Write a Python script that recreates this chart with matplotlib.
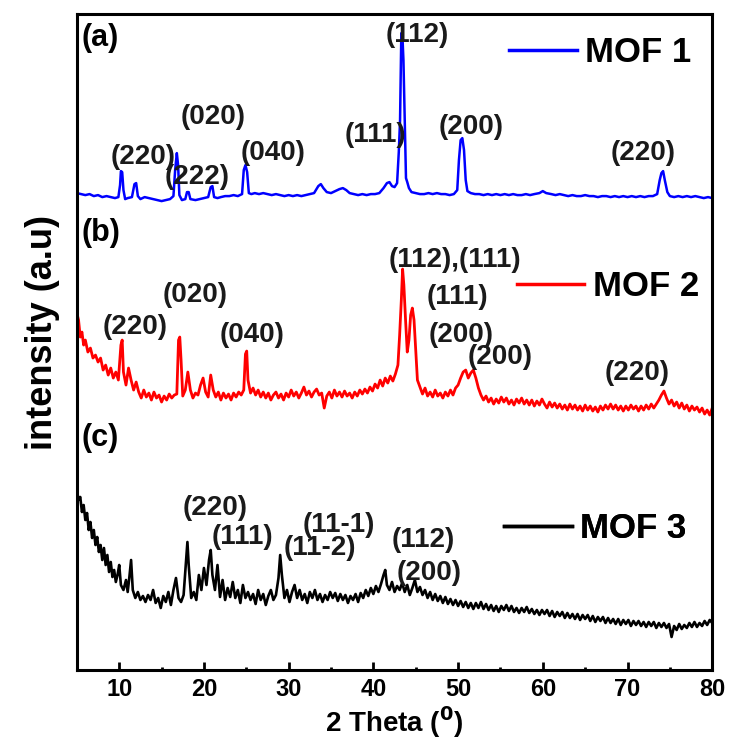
import matplotlib
matplotlib.use("Agg")
import matplotlib.pyplot as plt
from matplotlib.lines import Line2D

plt.rcParams["font.family"] = ["Liberation Sans", "DejaVu Sans"]
plt.rcParams["font.weight"] = "bold"
plt.rcParams["mathtext.default"] = "bf"

# MOF 1 (blue), pairs of (2 theta, stacked intensity)
mof1 = [
    (5.0, 477), (5.5, 476), (6.0, 475), (6.5, 476), (7.0, 474), (7.5, 475), (8.0, 473), (8.5, 474),
    (9.0, 473), (9.5, 472), (9.9, 473), (10.1, 485), (10.2, 499), (10.35, 498), (10.5, 480), (10.7, 471),
    (11.0, 472), (11.5, 473), (11.8, 486), (12.0, 487), (12.2, 474), (12.5, 471), (13.0, 473), (13.5, 472),
    (14.0, 471), (14.5, 470), (15.0, 469), (15.5, 470), (16.0, 471), (16.4, 474), (16.6, 500), (16.8, 517),
    (16.95, 505), (17.1, 475), (17.4, 470), (17.8, 471), (18.0, 478), (18.2, 478), (18.4, 471), (19.0, 470),
    (19.5, 471), (20.0, 472), (20.5, 473), (20.8, 483), (21.0, 484), (21.2, 473), (21.6, 472), (22.0, 473),
    (22.5, 474), (23.0, 474), (23.5, 475), (24.0, 474), (24.5, 476), (24.7, 500), (24.9, 505), (25.1, 498),
    (25.3, 477), (25.6, 476), (26.0, 477), (26.5, 476), (27.0, 477), (27.5, 476), (28.0, 475), (28.5, 476),
    (29.0, 475), (29.5, 474), (30.0, 475), (30.5, 474), (31.0, 475), (31.5, 474), (32.0, 475), (32.5, 476),
    (33.0, 477), (33.5, 484), (33.8, 486), (34.1, 482), (34.5, 478), (35.0, 477), (35.5, 479), (36.0, 481),
    (36.4, 482), (36.8, 480), (37.2, 477), (37.7, 476), (38.2, 475), (38.7, 476), (39.2, 475), (39.7, 476),
    (40.2, 476), (40.7, 477), (41.2, 482), (41.6, 487), (41.9, 488), (42.2, 484), (42.5, 483), (42.8, 487),
    (43.0, 518), (43.15, 550), (43.3, 637), (43.45, 630), (43.55, 610), (43.7, 550), (43.85, 492), (44.0, 488),
    (44.2, 482), (44.5, 478), (45.0, 477), (45.5, 476), (46.0, 476), (46.5, 477), (47.0, 476), (47.5, 477),
    (48.0, 476), (48.5, 476), (49.0, 475), (49.5, 476), (49.9, 480), (50.1, 510), (50.3, 530), (50.5, 532),
    (50.7, 520), (50.9, 490), (51.1, 479), (51.5, 477), (52.0, 476), (52.5, 476), (53.0, 475), (53.5, 476),
    (54.0, 475), (54.5, 476), (55.0, 475), (55.5, 476), (56.0, 475), (56.5, 476), (57.0, 475), (57.5, 475),
    (58.0, 476), (58.5, 475), (59.0, 476), (59.6, 477), (60.0, 479), (60.4, 477), (61.0, 476), (61.5, 475),
    (62.0, 476), (62.5, 475), (63.0, 474), (63.5, 475), (64.0, 474), (64.5, 474), (65.0, 475), (65.5, 474),
    (66.0, 474), (66.5, 473), (67.0, 474), (67.5, 474), (68.0, 473), (68.5, 474), (69.0, 473), (69.5, 474),
    (70.0, 473), (70.5, 474), (71.0, 473), (71.5, 474), (72.0, 473), (72.5, 474), (73.0, 474), (73.5, 476),
    (73.8, 490), (74.0, 497), (74.2, 499), (74.4, 490), (74.7, 478), (75.0, 474), (75.5, 473), (76.0, 474),
    (76.5, 473), (77.0, 474), (77.5, 473), (78.0, 474), (78.5, 473), (79.0, 472), (79.5, 473), (80.0, 472),
]

# MOF 2 (red)
mof2 = [
    (5.0, 357), (5.2, 350), (5.4, 333), (5.6, 338), (5.8, 325), (6.0, 330), (6.3, 318), (6.6, 322),
    (6.9, 312), (7.2, 315), (7.5, 308), (7.8, 312), (8.1, 300), (8.4, 305), (8.7, 295), (9.0, 302),
    (9.3, 292), (9.6, 298), (9.9, 290), (10.2, 325), (10.35, 330), (10.5, 298), (10.8, 285), (11.1, 302),
    (11.4, 290), (11.7, 280), (12.0, 288), (12.3, 278), (12.6, 272), (12.9, 280), (13.2, 273), (13.5, 277),
    (13.8, 270), (14.1, 278), (14.4, 272), (14.7, 275), (15.0, 268), (15.3, 274), (15.6, 270), (15.9, 276),
    (16.2, 272), (16.5, 275), (16.8, 276), (17.0, 330), (17.15, 333), (17.3, 310), (17.5, 274), (17.8, 280),
    (18.1, 298), (18.4, 280), (18.7, 272), (19.0, 277), (19.3, 275), (19.6, 285), (19.9, 292), (20.2, 278),
    (20.5, 273), (20.8, 295), (21.1, 280), (21.4, 273), (21.7, 278), (22.0, 270), (22.3, 277), (22.6, 272),
    (22.9, 276), (23.2, 270), (23.5, 277), (23.8, 273), (24.1, 278), (24.4, 275), (24.7, 280), (24.9, 316),
    (25.05, 319), (25.2, 290), (25.5, 277), (25.8, 282), (26.1, 275), (26.4, 280), (26.7, 273), (27.0, 278),
    (27.3, 272), (27.6, 277), (27.9, 270), (28.2, 275), (28.5, 278), (28.8, 272), (29.1, 276), (29.4, 270),
    (29.7, 277), (30.0, 273), (30.3, 280), (30.6, 274), (30.9, 278), (31.2, 272), (31.5, 277), (31.8, 283),
    (32.1, 275), (32.4, 279), (32.7, 273), (33.0, 278), (33.3, 281), (33.6, 275), (33.9, 277), (34.2, 262),
    (34.5, 274), (34.8, 278), (35.1, 272), (35.4, 280), (35.7, 274), (36.0, 278), (36.3, 273), (36.6, 279),
    (36.9, 274), (37.2, 277), (37.5, 272), (37.8, 278), (38.1, 274), (38.4, 280), (38.7, 276), (39.0, 281),
    (39.3, 277), (39.6, 283), (39.9, 279), (40.2, 286), (40.5, 282), (40.8, 290), (41.1, 284), (41.4, 292),
    (41.7, 287), (42.0, 294), (42.3, 289), (42.6, 296), (42.9, 305), (43.1, 335), (43.3, 370), (43.45, 401),
    (43.6, 385), (43.8, 350), (44.0, 318), (44.2, 330), (44.4, 355), (44.6, 362), (44.8, 350), (45.0, 320),
    (45.2, 290), (45.5, 283), (45.8, 276), (46.1, 282), (46.4, 274), (46.7, 278), (47.0, 273), (47.3, 280),
    (47.6, 274), (47.9, 277), (48.2, 272), (48.5, 278), (48.8, 274), (49.1, 280), (49.4, 275), (49.7, 282),
    (50.0, 285), (50.3, 292), (50.6, 298), (50.9, 300), (51.2, 292), (51.5, 297), (51.8, 300), (52.1, 292),
    (52.4, 282), (52.7, 275), (53.0, 270), (53.3, 274), (53.6, 268), (53.9, 272), (54.2, 266), (54.5, 271),
    (54.8, 267), (55.1, 273), (55.4, 268), (55.7, 272), (56.0, 266), (56.3, 270), (56.6, 265), (56.9, 271),
    (57.2, 267), (57.5, 272), (57.8, 266), (58.1, 270), (58.4, 265), (58.7, 270), (59.0, 264), (59.3, 269),
    (59.6, 265), (59.9, 271), (60.2, 266), (60.5, 262), (60.8, 268), (61.1, 263), (61.4, 267), (61.7, 262),
    (62.0, 266), (62.3, 261), (62.6, 265), (62.9, 260), (63.2, 266), (63.5, 261), (63.8, 265), (64.1, 260),
    (64.4, 264), (64.7, 259), (65.0, 265), (65.3, 260), (65.6, 264), (65.9, 259), (66.2, 263), (66.5, 258),
    (66.8, 264), (67.1, 260), (67.4, 265), (67.7, 261), (68.0, 266), (68.3, 261), (68.6, 265), (68.9, 260),
    (69.2, 264), (69.5, 259), (69.8, 264), (70.1, 260), (70.4, 265), (70.7, 261), (71.0, 264), (71.3, 259),
    (71.6, 264), (71.9, 260), (72.2, 265), (72.5, 261), (72.8, 266), (73.1, 262), (73.4, 266), (73.7, 270),
    (74.0, 275), (74.3, 279), (74.6, 272), (74.9, 266), (75.2, 270), (75.5, 264), (75.8, 268), (76.1, 262),
    (76.4, 267), (76.7, 261), (77.0, 265), (77.3, 259), (77.6, 264), (77.9, 260), (78.2, 263), (78.5, 258),
    (78.8, 262), (79.1, 256), (79.4, 260), (79.7, 255), (80.0, 262),
]

# MOF 3 (black)
mof3 = [
    (5.0, 180), (5.2, 170), (5.4, 173), (5.6, 158), (5.8, 165), (6.0, 150), (6.2, 157), (6.4, 140),
    (6.6, 148), (6.8, 132), (7.0, 140), (7.2, 125), (7.4, 133), (7.6, 118), (7.8, 125), (8.0, 110),
    (8.2, 122), (8.4, 105), (8.6, 115), (8.8, 98), (9.0, 108), (9.2, 93), (9.4, 100), (9.6, 88),
    (9.8, 95), (10.0, 105), (10.2, 85), (10.5, 80), (10.8, 90), (11.0, 78), (11.2, 93), (11.4, 110),
    (11.6, 80), (11.9, 72), (12.2, 78), (12.5, 70), (12.8, 74), (13.1, 68), (13.4, 75), (13.7, 70),
    (14.0, 80), (14.3, 67), (14.6, 72), (14.9, 62), (15.2, 74), (15.5, 68), (15.8, 78), (16.1, 65),
    (16.4, 80), (16.7, 92), (17.0, 72), (17.3, 68), (17.6, 75), (17.9, 110), (18.05, 128), (18.2, 105),
    (18.5, 72), (18.8, 78), (19.1, 70), (19.4, 95), (19.7, 80), (20.0, 102), (20.3, 85), (20.6, 110),
    (20.8, 120), (21.0, 95), (21.3, 80), (21.6, 105), (21.9, 73), (22.2, 90), (22.5, 70), (22.8, 82),
    (23.1, 73), (23.4, 88), (23.7, 72), (24.0, 80), (24.3, 67), (24.6, 85), (24.9, 72), (25.2, 78),
    (25.5, 70), (25.8, 76), (26.1, 66), (26.4, 80), (26.7, 70), (27.0, 76), (27.3, 65), (27.6, 74),
    (27.9, 80), (28.2, 70), (28.5, 75), (28.8, 92), (29.0, 115), (29.2, 95), (29.5, 72), (29.8, 80),
    (30.1, 68), (30.4, 78), (30.7, 85), (31.0, 72), (31.3, 80), (31.6, 70), (31.9, 76), (32.2, 67),
    (32.5, 78), (32.8, 72), (33.1, 80), (33.4, 70), (33.7, 76), (34.0, 68), (34.3, 75), (34.6, 70),
    (34.9, 78), (35.2, 72), (35.5, 77), (35.8, 69), (36.1, 76), (36.4, 70), (36.7, 75), (37.0, 67),
    (37.3, 74), (37.6, 70), (37.9, 76), (38.2, 68), (38.5, 77), (38.8, 72), (39.1, 80), (39.4, 74),
    (39.7, 82), (40.0, 76), (40.3, 84), (40.6, 78), (40.9, 86), (41.2, 95), (41.4, 100), (41.6, 85),
    (41.9, 80), (42.2, 88), (42.5, 78), (42.8, 84), (43.1, 80), (43.4, 87), (43.7, 78), (44.0, 85),
    (44.3, 75), (44.6, 82), (44.9, 90), (45.2, 78), (45.5, 83), (45.8, 75), (46.1, 80), (46.4, 72),
    (46.7, 78), (47.0, 70), (47.3, 76), (47.6, 69), (47.9, 74), (48.2, 67), (48.5, 73), (48.8, 66),
    (49.1, 71), (49.4, 65), (49.7, 70), (50.0, 64), (50.3, 69), (50.6, 63), (50.9, 68), (51.2, 62),
    (51.5, 67), (51.8, 61), (52.1, 67), (52.4, 62), (52.7, 68), (53.0, 61), (53.3, 66), (53.6, 60),
    (53.9, 65), (54.2, 59), (54.5, 64), (54.8, 58), (55.1, 64), (55.4, 60), (55.7, 65), (56.0, 59),
    (56.3, 64), (56.6, 58), (56.9, 62), (57.2, 57), (57.5, 62), (57.8, 58), (58.1, 63), (58.4, 57),
    (58.7, 61), (59.0, 56), (59.3, 60), (59.6, 55), (59.9, 60), (60.2, 56), (60.5, 60), (60.8, 54),
    (61.1, 59), (61.4, 53), (61.7, 58), (62.0, 54), (62.3, 58), (62.6, 52), (62.9, 57), (63.2, 52),
    (63.5, 56), (63.8, 51), (64.1, 56), (64.4, 50), (64.7, 55), (65.0, 51), (65.3, 55), (65.6, 49),
    (65.9, 54), (66.2, 48), (66.5, 53), (66.8, 49), (67.1, 53), (67.4, 47), (67.7, 52), (68.0, 47),
    (68.3, 51), (68.6, 46), (68.9, 51), (69.2, 45), (69.5, 50), (69.8, 46), (70.1, 50), (70.4, 44),
    (70.7, 49), (71.0, 45), (71.3, 49), (71.6, 44), (71.9, 48), (72.2, 43), (72.5, 48), (72.8, 44),
    (73.1, 48), (73.4, 42), (73.7, 47), (74.0, 43), (74.3, 47), (74.6, 42), (74.9, 46), (75.2, 33),
    (75.5, 44), (75.8, 40), (76.1, 46), (76.4, 41), (76.7, 45), (77.0, 42), (77.3, 47), (77.6, 43),
    (77.9, 48), (78.2, 43), (78.5, 47), (78.8, 44), (79.1, 49), (79.4, 45), (79.7, 50), (80.0, 47),
]

# peak labels: (text, 2 theta, height)
labels_a = [("(220)", 12.8, 513), ("(020)", 21.1, 553), ("(222)", 19.2, 493), ("(040)", 28.2, 517),
            ("(111)", 40.2, 535), ("(112)", 45.2, 635), ("(200)", 51.5, 543), ("(220)", 71.8, 517)]
labels_b = [("(220)", 11.9, 343), ("(020)", 19.0, 375), ("(040)", 25.7, 335), ("(112),(111)", 49.6, 410),
            ("(111)", 49.9, 373), ("(200)", 50.3, 335), ("(200)", 55.0, 313), ("(220)", 71.1, 297)]
labels_c = [("(220)", 21.3, 162), ("(111)", 24.6, 133), ("(11-1)", 35.9, 145), ("(11-2)", 33.7, 122),
            ("(112)", 45.9, 130), ("(200)", 46.6, 97)]
panel_tags = [("(a)", 5.5, 632), ("(b)", 5.5, 437), ("(c)", 5.5, 232)]

series = [("MOF 1", mof1, "#0000ff", 1.8, 0.942, 0.680),
          ("MOF 2", mof2, "#ff0000", 2.0, 0.584, 0.692),
          ("MOF 3", mof3, "black", 1.9, 0.216, 0.672)]

fig = plt.figure(figsize=(7.32, 7.44), dpi=100)
ax = fig.add_axes([0.105, 0.0995, 0.868, 0.8815])

for name, pts, col, lw, ly, lx in series:
    xs = [p[0] for p in pts]
    ys = [p[1] for p in pts]
    ax.plot(xs, ys, color=col, lw=lw)
    h = Line2D([], [], color=col, lw=2.5)
    leg = ax.legend([h], [name], loc="center left", bbox_to_anchor=(lx, ly),
                    frameon=False, borderpad=0, borderaxespad=0, handlelength=1.95,
                    handletextpad=0.25, prop={"size": 25, "weight": "bold"})
    ax.add_artist(leg)

for group in (labels_a, labels_b, labels_c):
    for txt, x, y in group:
        ax.text(x, y, txt, fontsize=20, fontweight="bold", color="#1a1a1a",
                ha="center", va="center")
for txt, x, y in panel_tags:
    ax.text(x, y, txt, fontsize=22, fontweight="bold", ha="left", va="center")

ax.set_xlim(5, 80)
ax.set_ylim(0, 656)
ax.set_xticks([10, 20, 30, 40, 50, 60, 70, 80])
ax.set_xticks([15, 25, 35, 45, 55, 65, 75], minor=True)
ax.set_yticks([])
ax.tick_params(axis="x", which="major", direction="in", length=6, width=2, pad=6,
               labelsize=17)
ax.tick_params(axis="x", which="minor", direction="in", length=2.5, width=2)
for lab in ax.get_xticklabels():
    lab.set_fontweight("bold")
for s in ax.spines.values():
    s.set_linewidth(2.2)

ax.set_xlabel(r"2 Theta ($^{0}$)", fontsize=20, fontweight="bold", labelpad=2)
fig.text(0.058, 0.553, "intensity (a.u)", rotation=90, fontsize=26, fontweight="bold",
         ha="center", va="center")

fig.savefig("out.png", dpi=100)
